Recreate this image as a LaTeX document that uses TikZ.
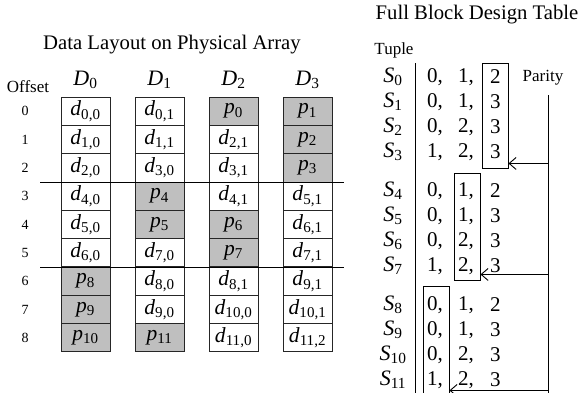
\documentclass[tikz,border=0pt]{standalone}
\usepackage{fontspec}
\setmainfont{Liberation Serif}
\usetikzlibrary{arrows.meta}

% italic letter with an upright index
\newcommand{\ds}[2]{\textit{#1}\textsubscript{#2}}
\newcommand{\titlesize}{\fontsize{20.7bp}{24bp}\selectfont}
\newcommand{\labelsize}{\fontsize{17bp}{20bp}\selectfont}

\tikzset{
	disk/.style={draw=black!85, line width=1bp, minimum width=49bp,
		minimum height=28.33bp, inner sep=0pt,
		font=\fontsize{21.5bp}{24bp}\selectfont},
	entry/.style={inner sep=0pt, anchor=west,
		font=\fontsize{21bp}{24bp}\selectfont},
	pbox/.style={draw, line width=0.9bp, inner sep=0pt},
	parrow/.style={line width=0.9bp, -{Straight Barb[length=7bp,width=12bp]}}
}

\begin{document}
\begin{tikzpicture}[x=1bp, y=-1bp]
	\useasboundingbox (0,0) rectangle (580,392);

	% Datenlayout
	\node (layout) at (172,45) {\titlesize Data Layout on Physical Array};
	\node (offset) at (28,87) {\labelsize Offset};
	\foreach \c in {0,...,3}
		\node (hd\c) at (85.5+74*\c, 80) {\fontsize{22bp}{24bp}\selectfont \ds{D}{\c}};
	\foreach \r in {0,...,8}
		\node (off\r) at (25, 111.17+28.33*\r) {\fontsize{14bp}{16bp}\selectfont \r};

	% Spalte D0
	\foreach \r/\fc/\k/\s in {0/white/d/{0,0}, 1/white/d/{1,0}, 2/white/d/{2,0},
		3/white/d/{4,0}, 4/white/d/{5,0}, 5/white/d/{6,0},
		6/black!25/p/8, 7/black!25/p/9, 8/black!25/p/10}
		\node[disk, fill=\fc] (a\r) at (85.5, 111.17+28.33*\r) {\ds{\k}{\s}};
	% Spalte D1
	\foreach \r/\fc/\k/\s in {0/white/d/{0,1}, 1/white/d/{1,1}, 2/white/d/{3,0},
		3/black!25/p/4, 4/black!25/p/5, 5/white/d/{7,0},
		6/white/d/{8,0}, 7/white/d/{9,0}, 8/black!25/p/11}
		\node[disk, fill=\fc] (b\r) at (159.5, 111.17+28.33*\r) {\ds{\k}{\s}};
	% Spalte D2
	\foreach \r/\fc/\k/\s in {0/black!25/p/0, 1/white/d/{2,1}, 2/white/d/{3,1},
		3/white/d/{4,1}, 4/black!25/p/6, 5/black!25/p/7,
		6/white/d/{8,1}, 7/white/d/{10,0}, 8/white/d/{11,0}}
		\node[disk, fill=\fc] (c\r) at (233.5, 111.17+28.33*\r) {\ds{\k}{\s}};
	% Spalte D3
	\foreach \r/\fc/\k/\s in {0/black!25/p/1, 1/black!25/p/2, 2/black!25/p/3,
		3/white/d/{5,1}, 4/white/d/{6,1}, 5/white/d/{7,1},
		6/white/d/{9,1}, 7/white/d/{10,1}, 8/white/d/{11,2}}
		\node[disk, fill=\fc] (e\r) at (307.5, 111.17+28.33*\r) {\ds{\k}{\s}};

	% Gruppengrenzen
	\draw[line width=1bp] (40,182) -- (344,182);
	\draw[line width=1bp] (40,267) -- (344,267);

	% Blockdesign-Tabelle
	\node (bdt) at (477,15) {\titlesize Full Block Design Table};
	\node (tuple) at (394,50) {\labelsize Tuple};
	\node (parity) at (543,78) {\labelsize Parity};
	\foreach \i/\a/\b/\c in {0/0/1/2, 1/0/1/3, 2/0/2/3, 3/1/2/3,
		4/0/1/2, 5/0/1/3, 6/0/2/3, 7/1/2/3,
		8/0/1/2, 9/0/1/3, 10/0/2/3, 11/1/2/3}
	{
		\pgfmathsetmacro{\y}{77+25*\i+14*int(\i/4)}
		\node[font=\fontsize{22bp}{24bp}\selectfont] (s\i) at (393,\y) {\ds{S}{\i}};
		\node[entry] (t\i-0) at (427,\y) {\a,};
		\node[entry] (t\i-1) at (458,\y) {\b,};
		\node[entry] (t\i-2) at (490,\y) {\c};
	}
	\draw[line width=0.9bp] (415,63) -- (415,398);

	% Paritaetsspalten
	\node[pbox, minimum width=26bp, minimum height=105bp] (box0) at (495,115.5) {};
	\node[pbox, minimum width=26bp, minimum height=107bp] (box1) at (467,226.5) {};
	\node[pbox, minimum width=26bp, minimum height=112bp] (box2) at (436,342) {};

	\coordinate (ptop) at (548,95);
	\coordinate (pbot) at (548,398);
	\draw[line width=0.9bp] (ptop) -- (pbot);
	\foreach \b/\d in {0/5, 1/6, 2/8}
	{
		\coordinate (h\b) at ([yshift=\d bp]box\b.south east);
		\draw[parrow] (ptop |- h\b) -- (h\b);
	}
\end{tikzpicture}
\end{document}
